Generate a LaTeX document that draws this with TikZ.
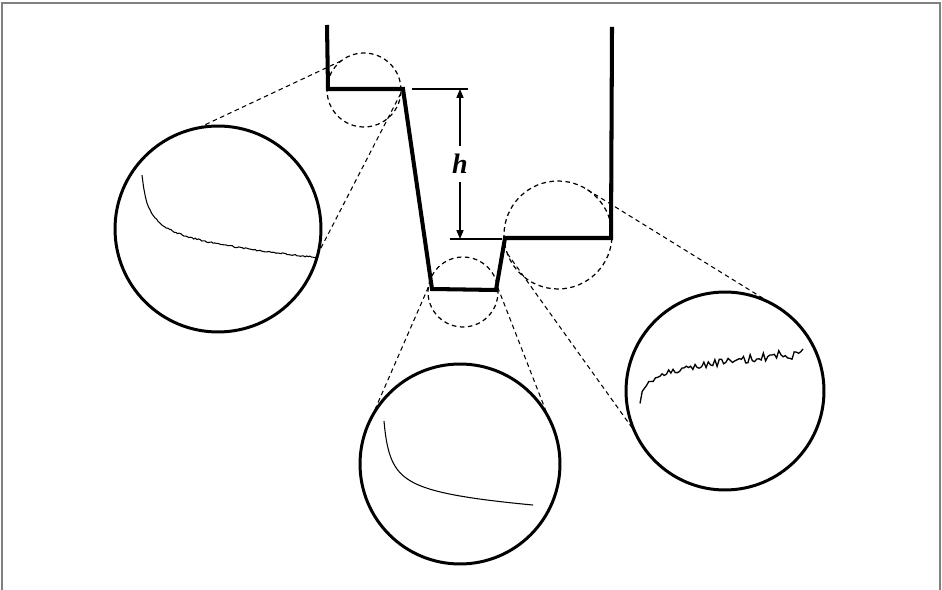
\documentclass[tikz,border=0pt]{standalone}
\usepackage{fontspec}
\setmainfont{Liberation Serif}
\usetikzlibrary{arrows.meta}

\begin{document}
\begin{tikzpicture}[x=0.02cm, y=-0.02cm,
  every node/.style={inner sep=0pt, outer sep=0pt},
  frame/.style={draw=gray, line width=1.1pt},
  profile/.style={line width=2.3pt},
  lens/.style={draw, circle, dash pattern=on 2.6pt off 2pt, line width=0.7pt},
  view/.style={draw, circle, line width=1.7pt},
  guide/.style={dash pattern=on 2.6pt off 2pt, line width=0.6pt},
  dim/.style={line width=0.6pt},
  trace/.style={line width=0.6pt},
  arrow/.style={{Triangle[length=5pt,width=4pt]}-{Triangle[length=5pt,width=4pt]}, line width=0.6pt}
]
  \useasboundingbox (0,0) rectangle (942,590);
  \draw[frame] (2,590) -- (2,3) -- (940,3) -- (940,590);

  \coordinate (p1) at (327,25);
  \coordinate (p2) at (328,89);
  \coordinate (p3) at (403,89);
  \coordinate (p4) at (432,289);
  \coordinate (p5) at (496,290);
  \coordinate (p6) at (505,238);
  \coordinate (p7) at (611,238);
  \coordinate (p8) at (612,27);
  \draw[profile] (p1) -- (p2) -- (p3) -- (p4) -- (p5) -- (p6) -- (p7) -- (p8);

  \coordinate (dimtopL) at (412,89);
  \coordinate (dimtopR) at (468,89);
  \coordinate (dimbotL) at (450,239);
  \coordinate (dimbotR) at (502,239);
  \coordinate (dimtop) at (460,89);
  \coordinate (dimbot) at (460,239);
  \draw[dim] (dimtopL) -- (dimtopR);
  \draw[dim] (dimbotL) -- (dimbotR);
  \draw[arrow] (dimtop) -- node[fill=white, inner xsep=2pt, inner ysep=4.5pt, font=\fontsize{16}{16}\selectfont\bfseries\itshape] (hlabel) {h} (dimbot);

  \node[lens, minimum size=1.48cm] (lensA) at (364,90) {};
  \node[lens, minimum size=1.40cm] (lensB) at (463,292) {};
  \node[lens, minimum size=2.16cm] (lensC) at (558,235) {};

  \node[view, minimum size=4.12cm] (viewA) at (218,229) {};
  \node[view, minimum size=4.00cm] (viewB) at (460,464) {};
  \node[view, minimum size=3.96cm] (viewC) at (725,391) {};

  \draw[guide] (lensA.128) -- (viewA.101.5);
  \draw[guide] (lensA.-5) -- (viewA.-14.6);
  \draw[guide] (lensB.172) -- (viewB.152);
  \draw[guide] (lensB.8) -- (viewB.28);
  \draw[guide] (lensC.57) -- (viewC.61);
  \draw[guide] (lensC.200) -- (viewC.204);

  \pgfmathsetseed{7}
  \draw[trace] plot[domain=4:180, samples=110] ({138+\x}, {255.8+0.0777*\x-162.2/sqrt(\x)+0.7*rand});
  \draw[trace] plot[domain=2:12.37, samples=60, smooth] ({380+\x*\x}, {512.9+0.0458*\x*\x-184.1/\x});
  \draw[trace, line width=0.75pt] plot[domain=4:167, samples=75] ({636+\x}, {360.2-0.0824*\x+84.2/sqrt(\x)+(2+0.02*\x)*rand});
\end{tikzpicture}
\end{document}
